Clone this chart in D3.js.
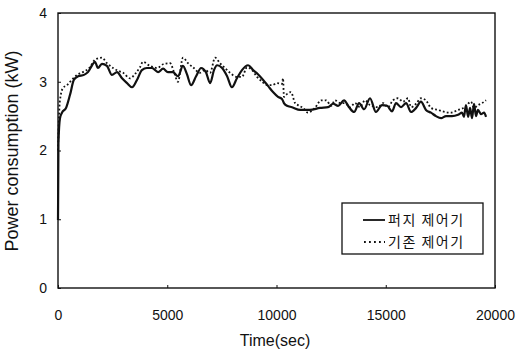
<!DOCTYPE html>
<html><head><meta charset="utf-8">
<script src="https://cdn.jsdelivr.net/npm/d3@7"></script>
<style>body{margin:0;background:#fff}text{font-family:"Liberation Sans",Arial,sans-serif}</style>
</head><body><svg id="c" width="518" height="349"></svg>
<script>
const xTicks=[0,5000,10000,15000,20000];
const yTicks=[0,1,2,3,4];
const seriesNames=["퍼지 제어기","기존 제어기"];
const fuzzyT=[0,20,90,180,370,550,730,920,1190,1370,1560,1690,1830,2010,2240,2470,2700,2930,3160,3390,3620,3840,4070,4300,4580,4810,5030,5260,5490,5720,5900,6090,6320,6550,6770,6960,7140,7280,7510,7740,7960,8190,8420,8700,8930,9150,9380,9610,9840,10070,10250,10340,10480,10710,11080,11530,11990,12360,12590,12820,13090,13320,13550,13780,14010,14280,14550,14830,15060,15290,15470,15700,15930,16160,16390,16610,16840,17070,17300,17530,17760,18030,18310,18490,18580,18670,18770,18860,18950,19040,19130,19220,19360,19500,19590];
const fuzzyV=[0.99,2.11,2.47,2.55,2.62,2.81,3.03,3.08,3.10,3.14,3.24,3.29,3.20,3.26,3.23,3.10,3.14,3.05,2.98,2.92,3.03,3.17,3.20,3.20,3.14,3.19,3.14,3.14,3.08,3.23,3.11,2.95,3.08,3.20,3.14,2.98,3.17,3.24,3.20,3.08,2.92,3.05,3.17,3.24,3.17,3.11,3.03,2.94,2.85,2.78,2.75,2.69,2.65,2.63,2.59,2.59,2.62,2.63,2.68,2.65,2.73,2.63,2.56,2.69,2.60,2.76,2.56,2.66,2.65,2.57,2.69,2.63,2.69,2.56,2.62,2.71,2.59,2.55,2.50,2.47,2.50,2.50,2.52,2.55,2.49,2.66,2.49,2.62,2.47,2.68,2.50,2.59,2.53,2.55,2.49];
const convT=[0,50,90,230,410,640,870,1140,1460,1690,2010,2240,2520,2750,2980,3300,3520,3750,3890,4210,4530,4850,5130,5310,5490,5720,5950,6180,6500,6730,6960,7190,7410,7640,7870,8190,8420,8650,8880,9110,9340,9570,9790,10020,10250,10300,10340,10440,10660,10850,10980,11210,11440,11760,12040,12270,12500,12680,12910,13140,13370,13590,13820,14050,14280,14650,14880,15100,15330,15560,15790,16020,16160,16390,16610,16840,17070,17390,17710,17990,18310,18630,18900,19040,19220,19410,19590];
const convV=[2.0,2.52,2.73,2.91,2.95,3.03,3.10,3.14,3.21,3.32,3.35,3.27,3.20,3.16,3.13,3.05,3.11,3.21,3.29,3.23,3.20,3.26,3.27,3.14,3.00,3.35,3.27,3.21,3.13,3.17,3.13,3.35,3.27,3.20,3.13,3.07,3.07,3.21,3.17,3.07,3.00,2.95,2.95,2.98,2.97,3.05,2.78,2.81,2.85,2.69,2.66,2.62,2.55,2.62,2.73,2.73,2.65,2.73,2.69,2.69,2.63,2.69,2.63,2.73,2.66,2.63,2.69,2.63,2.73,2.76,2.71,2.76,2.63,2.68,2.76,2.73,2.62,2.59,2.56,2.55,2.59,2.63,2.71,2.62,2.66,2.69,2.73];

const svg=d3.select("#c");
const L=58,R=495,T=13,B=288;
const x=d3.scaleLinear().domain([0,20000]).range([L,R]);
const y=d3.scaleLinear().domain([0,4]).range([B,T]);

svg.append("rect").attr("x",L).attr("y",T).attr("width",R-L).attr("height",B-T)
  .attr("fill","none").attr("stroke","#111").attr("stroke-width",1.4);

const xa=svg.append("g").attr("transform",`translate(0,${B})`)
  .call(d3.axisBottom(x).tickValues(xTicks).tickSize(-3).tickPadding(22).tickFormat(d3.format("d")));
const ya=svg.append("g").attr("transform",`translate(${L},0)`)
  .call(d3.axisLeft(y).tickValues(yTicks).tickSize(-3).tickPadding(11).tickFormat(d3.format("d")));
[xa,ya].forEach(g=>{g.select(".domain").remove();g.selectAll("line").attr("stroke","#111");
  g.selectAll("text").attr("fill","#111").style("font-size","14px").style("font-family","Liberation Sans, Arial, sans-serif");});
xa.selectAll("text").attr("dy","0.71em");

svg.append("text").attr("x",275).attr("y",346).attr("text-anchor","middle")
  .style("font-size","16px").attr("fill","#111").text("Time(sec)");
svg.append("text").attr("transform","translate(18,151) rotate(-90)").attr("text-anchor","middle")
  .style("font-size","18px").attr("fill","#111").text("Power consumption (kW)");

const line=d3.line().x(d=>x(d[0])).y(d=>y(d[1])).curve(d3.curveMonotoneX);
const conv=convT.map((t,i)=>[t,convV[i]]);
const fuzzy=fuzzyT.map((t,i)=>[t,fuzzyV[i]]);
svg.append("path").datum(conv).attr("d",line).attr("fill","none").attr("stroke","#111")
  .attr("stroke-width",1.8).attr("stroke-dasharray","1.8,2.2");
svg.append("path").datum(fuzzy).attr("d",line).attr("fill","none").attr("stroke","#111")
  .attr("stroke-width",2.2);

const lg=svg.append("g");
lg.append("rect").attr("x",342).attr("y",203).attr("width",141).attr("height",51)
  .attr("fill","#fff").attr("stroke","#111").attr("stroke-width",1.3);
lg.append("line").attr("x1",363).attr("x2",385).attr("y1",220).attr("y2",220).attr("stroke","#111").attr("stroke-width",1.8);
lg.append("line").attr("x1",364).attr("x2",385).attr("y1",242).attr("y2",242).attr("stroke","#111")
  .attr("stroke-width",1.8).attr("stroke-dasharray","1.8,3.2");
seriesNames.forEach((n,i)=>{
  lg.append("text").attr("x",388).attr("y",225+i*22).attr("fill","#111")
    .style("font-family","'Noto Sans CJK KR',sans-serif").style("font-size","14px")
    .style("letter-spacing","1.5px").text(n);
});
</script></body></html>
